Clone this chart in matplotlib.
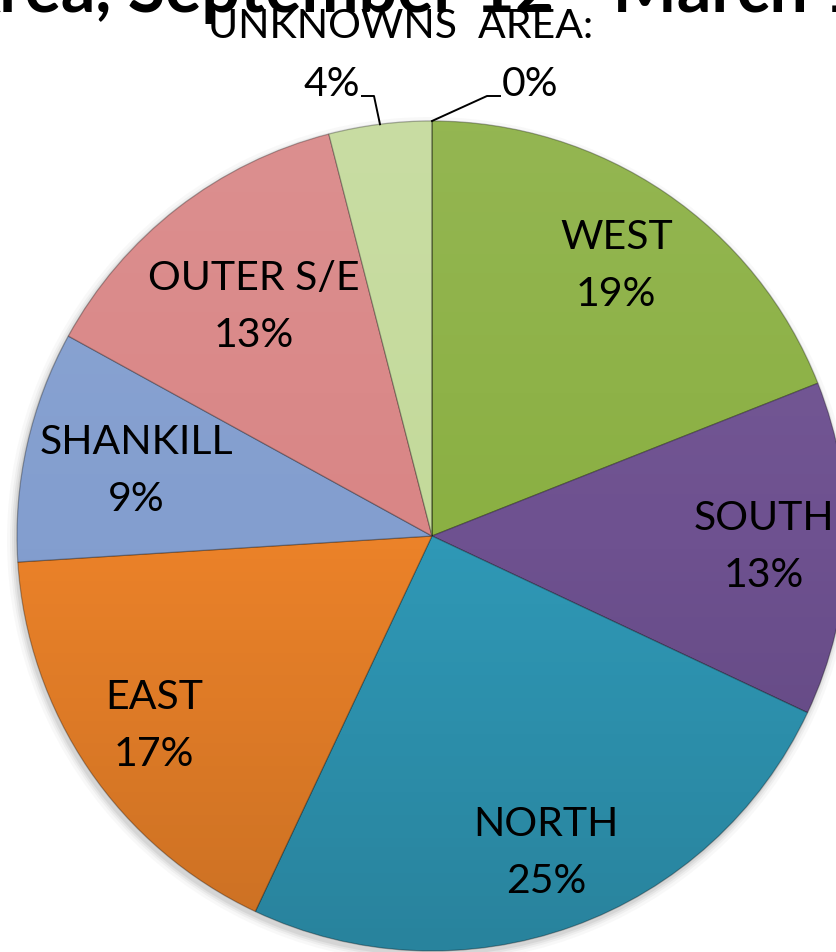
"""
Pie chart of share by area, redrawn to match the cropped slide.
"""

import numpy as np
import matplotlib.pyplot as plt
from matplotlib.patches import Circle

# data
areas = ["WEST", "SOUTH", "NORTH", "EAST", "SHANKILL", "OUTER S/E", "UNKNOWNS", "AREA:"]
shares = [19, 13, 25, 17, 9, 13, 4, 0]
colours = ["#8BB043", "#6E5190", "#2F98B6", "#EB8229", "#839ECF", "#D98686", "#C4DA9B", "#9BBB59"]
header = "UNKNOWNS  AREA:"
title = "Area, September 12 - March 13"

# layout (pixels, figure is 837 x 953 at 100 dpi)
W, H = 837, 953
cx, cy, R = 432, H - 537, 415
label_dist = [0.79, 0.80, 0.81, 0.81, 0.73, 0.70]
fs = 29.5

plt.rcParams["font.family"] = ["Lato", "DejaVu Sans"]

fig = plt.figure(figsize=(W / 100, H / 100), dpi=100)
ax = fig.add_axes([0, 0, 1, 1])

# soft shadow under the pie
for dr, a in [(8, 0.04), (5, 0.06), (3, 0.08), (1, 0.10)]:
    ax.add_patch(Circle((cx - 2, cy - 4), R + dr, color="#606060", alpha=a, lw=0, zorder=0))

wedges, _ = ax.pie(
    shares,
    colors=colours,
    startangle=90,
    counterclock=False,
    center=(cx, cy),
    radius=R,
    wedgeprops=dict(edgecolor=(0, 0, 0, 0.3), linewidth=0.9),
)

# light-to-dark vertical shading over the whole pie
t = np.linspace(0, 1, 256)
shade = np.zeros((256, 1, 4))
top = t < 0.5
shade[top, 0, :3] = 1.0
shade[top, 0, 3] = (0.5 - t[top]) * 0.16
shade[~top, 0, 3] = (t[~top] - 0.5) * 0.28
im = ax.imshow(shade, extent=(cx - R, cx + R, cy - R, cy + R), origin="upper",
               aspect="auto", zorder=3)
im.set_clip_path(Circle((cx, cy), R, transform=ax.transData))

# labels inside the big slices
for i, w in enumerate(wedges[:6]):
    mid = np.deg2rad((w.theta1 + w.theta2) / 2)
    x = cx + label_dist[i] * R * np.cos(mid)
    y = cy + label_dist[i] * R * np.sin(mid)
    ax.text(x, y + 28.5, areas[i], ha="center", va="center", fontsize=fs, zorder=5)
    ax.text(x, y - 28.5, f"{shares[i]}%", ha="center", va="center", fontsize=fs, zorder=5)

# the two thin slices get leader lines
y_elbow = H - 97
for i, dx_elbow, dx_end, ha in [(6, -6, -18, "right"), (7, 55, 68, "left")]:
    w = wedges[i]
    mid = np.deg2rad((w.theta1 + w.theta2) / 2)
    x0 = cx + R * np.cos(mid)
    y0 = cy + R * np.sin(mid)
    xs = [x0, x0 + dx_elbow, x0 + dx_end]
    ax.plot(xs, [y0, y_elbow, y_elbow], color="black", lw=1.4, zorder=5)
    x_txt = xs[-1] + (-2 if ha == "right" else 2)
    ax.text(x_txt, H - 84, f"{shares[i]}%", ha=ha, va="center", fontsize=fs, zorder=5)

# title of the slide, mostly cut off at the top
renderer = fig.canvas.get_renderer()
probe = ax.text(0, 0, "Area, S", fontsize=49, fontweight="bold")
w_long = probe.get_window_extent(renderer).width
probe.set_text("S")
w_s = probe.get_window_extent(renderer).width
probe.remove()
ax.text(128 - (w_long - w_s), H - 12, title, ha="left", va="baseline",
        fontsize=49, fontweight="bold", zorder=6)

ax.text(401, H - 26, header, ha="center", va="center", fontsize=fs, zorder=7)

ax.set_xlim(0, W)
ax.set_ylim(0, H)
ax.axis("off")

fig.savefig("out.png", dpi=100)
